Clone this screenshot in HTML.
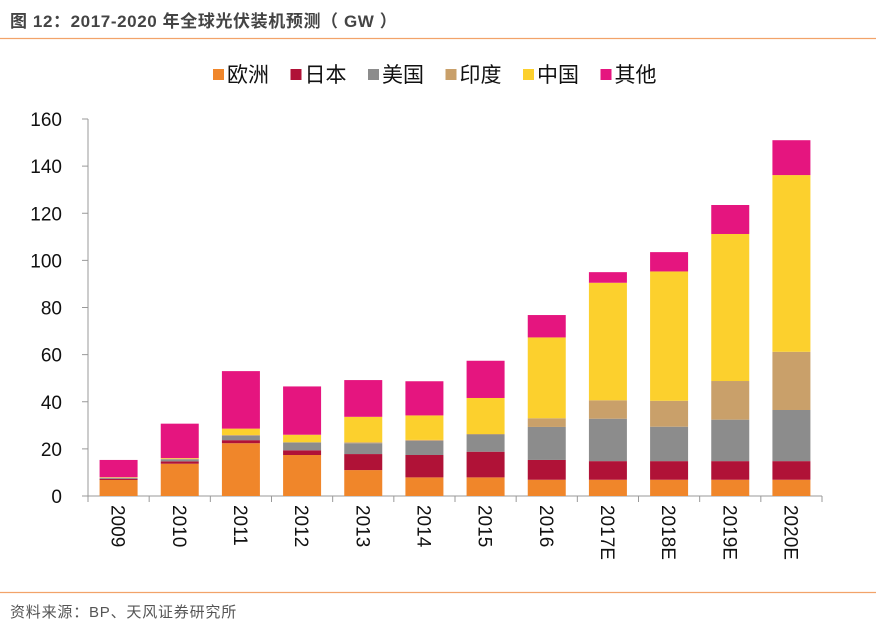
<!DOCTYPE html>
<html><head><meta charset="utf-8"><style>
body{margin:0;background:#fff;width:876px;height:630px;overflow:hidden;font-family:"Liberation Sans","Noto Sans CJK SC",sans-serif;}
</style></head><body>
<svg width="876" height="630" xmlns="http://www.w3.org/2000/svg">
<text x="10" y="27" font-size="17" font-weight="bold" fill="#444" letter-spacing="0.6" font-family="Liberation Sans, Noto Sans CJK SC, sans-serif">图 12：2017-2020 年全球光伏装机预测（ GW ）</text>
<line x1="0" y1="38.5" x2="876" y2="38.5" stroke="#F2A36A" stroke-width="1.3"/>
<line x1="0" y1="592.5" x2="876" y2="592.5" stroke="#F2A36A" stroke-width="1.3"/>
<text x="10" y="617" font-size="15" fill="#555" letter-spacing="0.8" font-family="Liberation Sans, Noto Sans CJK SC, sans-serif">资料来源：BP、天风证券研究所</text>
<g id="legend"></g>
<g id="axes"></g>
<g id="bars"></g>
</svg>
<script>
const categories=["2009","2010","2011","2012","2013","2014","2015","2016","2017E","2018E","2019E","2020E"];
const seriesNames=["欧洲","日本","美国","印度","中国","其他"];
const europe=[6.8,13.7,22.4,17.4,11,7.9,7.9,6.9,6.9,6.9,6.9,6.9];
const japan=[0.5,1.0,1.3,2.0,6.8,9.5,10.9,8.4,7.9,7.9,7.9,7.9];
const usa=[0.4,0.9,1.9,3.3,4.6,6.0,7.3,14,18,14.6,17.6,21.7];
const india=[0.1,0.2,0.3,0.1,0.4,0.4,0.2,3.7,7.8,11,16.4,24.7];
const china=[0.2,0.3,2.7,3.2,10.8,10.4,15.3,34.3,49.9,54.9,62.4,75];
const other=[7.3,14.6,24.4,20.5,15.6,14.5,15.8,9.5,4.5,8.2,12.3,14.8];
const yTicks=[0,20,40,60,80,100,120,140,160];
const colors=["#F0862A","#B01237","#8C8C8C","#C9A06A","#FCD02D","#E5157F"];
const NS="http://www.w3.org/2000/svg";
const x0=88,x1=822,y0=496,yTop=119,yMax=160;
const band=(x1-x0)/categories.length,bw=38;
const yS=v=>y0-(v/yMax)*(y0-yTop);
const xS=i=>x0+band*i+band/2;
function mk(t,a,p){const e=document.createElementNS(NS,t);for(const k in a)e.setAttribute(k,a[k]);p.appendChild(e);return e;}
const axes=document.getElementById('axes');
const yl=mk('line',{x1:x0,y1:yTop,x2:x0,y2:y0,stroke:'#999'},axes);


yTicks.forEach(v=>{
 const tk=mk('line',{x1:x0-6,y1:yS(v),x2:x0,y2:yS(v),stroke:'#999'},axes);
 
 
 const t=mk('text',{x:62,y:yS(v)+7,'text-anchor':'end','font-size':'19',fill:'#111'},axes);
 t.textContent=v;
 
 
});
const xl=mk('line',{x1:x0,y1:y0,x2:x1,y2:y0,stroke:'#999'},axes);


for(let i=0;i<=categories.length;i++){
 const tk=mk('line',{x1:x0+band*i,y1:y0,x2:x0+band*i,y2:y0+6,stroke:'#999'},axes);
 
 
}
categories.forEach((c,i)=>{
 const x=xS(i)-7,y=505;
 const t=mk('text',{x:x,y:y,'font-size':'19',fill:'#111',transform:`rotate(90 ${x} ${y})`},axes);
 t.textContent=c;
 
 
});
const series=[europe,japan,usa,india,china,other];
const bars=document.getElementById('bars');
categories.forEach((c,i)=>{
 let acc=0;
 series.forEach((s,k)=>{
  const v=s[i];
  const r=mk('rect',{x:xS(i)-bw/2,y:yS(acc+v),width:bw,height:yS(acc)-yS(acc+v),fill:colors[k]},bars);
  
  
  acc+=v;
 });
});
const lg=document.getElementById('legend');
let cx=213;
seriesNames.forEach((n,k)=>{
 const r=mk('rect',{x:cx,y:69,width:11,height:11,fill:colors[k]},lg);
 
 
 const t=mk('text',{x:cx+14,y:82,'font-size':'21',fill:'#111'},lg);
 t.textContent=n;
 
 
 cx+=77.5;
});
</script>
</body></html>
